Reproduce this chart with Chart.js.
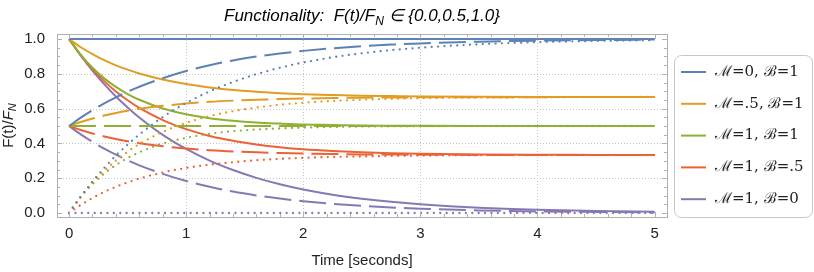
<!DOCTYPE html>
<html>
<head>
<meta charset="utf-8">
<script src="https://cdn.jsdelivr.net/npm/chart.js@4.4.0/dist/chart.umd.min.js"></script>
<style>
  html, body { margin: 0; padding: 0; background: #fff; }
  #wrap { width: 814px; height: 272px; position: relative; }
</style>
</head>
<body>
<div id="wrap"><canvas id="chart" width="814" height="272"></canvas></div>
<script>
// time samples (seconds)
const times = [0, 0.1, 0.2, 0.3, 0.4, 0.5, 0.6, 0.8, 1, 1.2, 1.4, 1.6, 1.8, 2, 2.25, 2.5, 2.75, 3, 3.5, 4, 4.5, 5];

// M=0, B=1
const m0b1From1  = [1, 1, 1, 1, 1, 1, 1, 1, 1, 1, 1, 1, 1, 1, 1, 1, 1, 1, 1, 1, 1, 1];
const m0b1From05 = [0.5, 0.548, 0.591, 0.630, 0.665, 0.697, 0.726, 0.775, 0.816, 0.849, 0.877, 0.899, 0.917, 0.932, 0.947, 0.959, 0.968, 0.975, 0.985, 0.991, 0.994, 0.997];
const m0b1From0  = [0, 0.095, 0.181, 0.259, 0.330, 0.393, 0.451, 0.551, 0.632, 0.699, 0.753, 0.798, 0.835, 0.865, 0.895, 0.918, 0.936, 0.950, 0.970, 0.982, 0.989, 0.993];

// M=.5, B=1
const m05b1From1  = [1, 0.953, 0.914, 0.879, 0.849, 0.824, 0.802, 0.767, 0.741, 0.722, 0.707, 0.697, 0.689, 0.683, 0.678, 0.674, 0.672, 0.670, 0.668, 0.667, 0.667, 0.667];
const m05b1From05 = [0.5, 0.523, 0.543, 0.560, 0.575, 0.588, 0.599, 0.616, 0.629, 0.639, 0.646, 0.651, 0.655, 0.658, 0.661, 0.663, 0.664, 0.665, 0.666, 0.666, 0.667, 0.667];
const m05b1From0  = [0, 0.093, 0.173, 0.242, 0.301, 0.352, 0.396, 0.466, 0.518, 0.557, 0.585, 0.606, 0.622, 0.634, 0.644, 0.651, 0.656, 0.660, 0.663, 0.665, 0.666, 0.667];

// M=1, B=1
const m1b1From1  = [1, 0.909, 0.835, 0.774, 0.725, 0.684, 0.651, 0.601, 0.568, 0.545, 0.530, 0.520, 0.514, 0.509, 0.506, 0.503, 0.502, 0.501, 0.500, 0.500, 0.500, 0.500];
const m1b1From05 = [0.5, 0.5, 0.5, 0.5, 0.5, 0.5, 0.5, 0.5, 0.5, 0.5, 0.5, 0.5, 0.5, 0.5, 0.5, 0.5, 0.5, 0.5, 0.5, 0.5, 0.5, 0.5];
const m1b1From0  = [0, 0.091, 0.165, 0.226, 0.275, 0.316, 0.349, 0.399, 0.432, 0.455, 0.470, 0.480, 0.486, 0.491, 0.494, 0.497, 0.498, 0.499, 0.500, 0.500, 0.500, 0.500];

// M=1, B=.5
const m1b05From1  = [1, 0.907, 0.827, 0.758, 0.699, 0.648, 0.604, 0.534, 0.482, 0.443, 0.415, 0.394, 0.378, 0.366, 0.356, 0.349, 0.344, 0.341, 0.337, 0.335, 0.334, 0.333];
const m1b05From05 = [0.5, 0.477, 0.457, 0.440, 0.425, 0.412, 0.401, 0.384, 0.371, 0.361, 0.354, 0.349, 0.345, 0.342, 0.339, 0.337, 0.336, 0.335, 0.334, 0.333, 0.333, 0.333];
const m1b05From0  = [0, 0.046, 0.086, 0.121, 0.150, 0.176, 0.198, 0.233, 0.259, 0.278, 0.292, 0.303, 0.311, 0.317, 0.322, 0.325, 0.328, 0.330, 0.332, 0.333, 0.333, 0.333];

// M=1, B=0
const m1b0From1  = [1, 0.905, 0.819, 0.741, 0.670, 0.607, 0.549, 0.449, 0.368, 0.301, 0.247, 0.202, 0.165, 0.135, 0.105, 0.082, 0.064, 0.050, 0.030, 0.018, 0.011, 0.007];
const m1b0From05 = [0.5, 0.452, 0.409, 0.370, 0.335, 0.303, 0.274, 0.225, 0.184, 0.151, 0.123, 0.101, 0.083, 0.068, 0.053, 0.041, 0.032, 0.025, 0.015, 0.009, 0.006, 0.003];
const m1b0From0  = [0, 0, 0, 0, 0, 0, 0, 0, 0, 0, 0, 0, 0, 0, 0, 0, 0, 0, 0, 0, 0, 0];

const seriesLabels = ['ℳ=0, ℬ=1', 'ℳ=.5, ℬ=1', 'ℳ=1, ℬ=1', 'ℳ=1, ℬ=.5', 'ℳ=1, ℬ=0'];
const seriesColors = ['#5e81b5', '#e19c24', '#8fb032', '#eb6235', '#8778b3'];
const seriesValues = [
    [m0b1From1, m0b1From05, m0b1From0],
    [m05b1From1, m05b1From05, m05b1From0],
    [m1b1From1, m1b1From05, m1b1From0],
    [m1b05From1, m1b05From05, m1b05From0],
    [m1b0From1, m1b0From05, m1b0From0]
];

const xTickLabels = [0, 1, 2, 3, 4, 5];
const yTickLabels = [0.0, 0.2, 0.4, 0.6, 0.8, 1.0];

// line styles for the three starting values
const styles = [
    { dash: [], cap: 'butt' },
    { dash: [27, 8], cap: 'butt' },
    { dash: [0, 6.4], cap: 'round' }
];

const datasets = [];
seriesValues.forEach((group, si) => {
    group.forEach((vals, k) => {
        datasets.push({
            label: seriesLabels[si],
            data: times.map((t, i) => ({ x: t, y: vals[i] })),
            borderColor: seriesColors[si],
            borderWidth: k === 2 ? 2.3 : 2,
            borderDash: styles[k].dash,
            borderCapStyle: styles[k].cap,
            pointRadius: 0,
            fill: false,
            cubicInterpolationMode: 'monotone'
        });
    });
});

const FRAME = '#b0b0b0';

function drawParts(ctx, parts, x, y, align) {
    let total = 0;
    parts.forEach(p => { ctx.font = p.font; total += ctx.measureText(p.text).width; });
    let cx = align === 'center' ? x - total / 2 : x;
    parts.forEach(p => {
        ctx.font = p.font;
        ctx.fillText(p.text, cx, y + (p.dy || 0));
        cx += ctx.measureText(p.text).width;
    });
}

const decorPlugin = {
    id: 'decor',
    beforeDatasetsDraw(chart) {
        const { ctx, chartArea: a, scales: { x, y } } = chart;
        ctx.save();
        ctx.strokeStyle = '#c4c4c4';
        ctx.lineWidth = 1;
        ctx.setLineDash([1, 2]);
        [1, 2, 3, 4].forEach(v => {
            const px = Math.round(x.getPixelForValue(v)) + 0.5;
            ctx.beginPath(); ctx.moveTo(px, a.top); ctx.lineTo(px, a.bottom); ctx.stroke();
        });
        [0.2, 0.4, 0.6, 0.8].forEach(v => {
            const py = Math.round(y.getPixelForValue(v)) + 0.5;
            ctx.beginPath(); ctx.moveTo(a.left, py); ctx.lineTo(a.right, py); ctx.stroke();
        });
        ctx.restore();
    },
    afterDatasetsDraw(chart) {
        const { ctx, chartArea: a, scales: { x, y } } = chart;
        ctx.save();
        // frame
        ctx.strokeStyle = FRAME;
        ctx.lineWidth = 1;
        ctx.strokeRect(Math.round(a.left) + 0.5, Math.round(a.top) + 0.5,
            Math.round(a.right - a.left), Math.round(a.bottom - a.top));
        // ticks
        ctx.beginPath();
        for (let i = 0; i <= 25; i++) {
            const v = i * 0.2;
            const len = i % 5 === 0 ? 5 : 3;
            const px = Math.round(x.getPixelForValue(v)) + 0.5;
            ctx.moveTo(px, a.bottom); ctx.lineTo(px, a.bottom - len);
            ctx.moveTo(px, a.top); ctx.lineTo(px, a.top + len);
        }
        for (let i = 0; i <= 20; i++) {
            const v = i * 0.05;
            const len = i % 4 === 0 ? 5 : 3;
            const py = Math.round(y.getPixelForValue(v)) + 0.5;
            ctx.moveTo(a.left, py); ctx.lineTo(a.left + len, py);
            ctx.moveTo(a.right, py); ctx.lineTo(a.right - len, py);
        }
        ctx.stroke();

        // title
        ctx.fillStyle = '#000';
        ctx.textBaseline = 'alphabetic';
        const tf = 'italic 17px "Liberation Sans"';
        const tfs = 'italic 12px "Liberation Sans"';
        drawParts(ctx, [
            { text: 'Functionality:  F(t)/F', font: tf },
            { text: 'N', font: tfs, dy: 4 },
            { text: ' \u2208 {0.0,0.5,1.0}', font: tf }
        ], (a.left + a.right) / 2, 21, 'center');

        // x axis title
        ctx.fillStyle = '#222';
        drawParts(ctx, [{ text: 'Time [seconds]', font: '15px "Liberation Sans"' }],
            (a.left + a.right) / 2, 265, 'center');

        // y axis title
        ctx.save();
        ctx.translate(13, (a.top + a.bottom) / 2);
        ctx.rotate(-Math.PI / 2);
        drawParts(ctx, [
            { text: 'F(t)/', font: '15px "Liberation Sans"' },
            { text: 'F', font: 'italic 15px "Liberation Sans"' },
            { text: 'N', font: 'italic 11px "Liberation Sans"', dy: 3 }
        ], 0, 0, 'center');
        ctx.restore();

        // legend
        const lx = 674, ly = 55, lw = 138, lh = 162, r = 7;
        ctx.strokeStyle = '#c8c8c8';
        ctx.setLineDash([]);
        ctx.beginPath();
        ctx.roundRect(lx + 0.5, ly + 0.5, lw, lh, r);
        ctx.stroke();
        ctx.textBaseline = 'middle';
        seriesLabels.forEach((lab, i) => {
            const yy = 72 + i * 31.8;
            ctx.strokeStyle = seriesColors[i];
            ctx.lineWidth = 2;
            ctx.beginPath(); ctx.moveTo(681, yy); ctx.lineTo(706, yy); ctx.stroke();
            ctx.fillStyle = '#222';
            ctx.font = '15px "DejaVu Serif"';
            ctx.fillText(lab, 715, yy);
        });
        ctx.restore();
    }
};

new Chart(document.getElementById('chart'), {
    type: 'line',
    data: { datasets },
    plugins: [decorPlugin],
    options: {
        responsive: false,
        animation: false,
        layout: { padding: { top: 34, right: 147, left: 0, bottom: 0 } },
        plugins: { legend: { display: false }, tooltip: { enabled: false } },
        scales: {
            x: {
                type: 'linear',
                min: -0.103,
                max: 5.106,
                grid: { display: false },
                border: { display: false },
                afterFit: s => { s.height = 55; },
                afterBuildTicks: s => { s.ticks = xTickLabels.map(v => ({ value: v })); },
                ticks: {
                    padding: 0,
                    color: '#222',
                    font: { family: 'Liberation Sans', size: 15 },
                    callback: v => String(v)
                }
            },
            y: {
                min: -0.023,
                max: 1.029,
                grid: { display: false },
                border: { display: false },
                afterFit: s => { s.width = 57; },
                afterBuildTicks: s => { s.ticks = yTickLabels.map(v => ({ value: v })); },
                ticks: {
                    padding: 4,
                    color: '#222',
                    font: { family: 'Liberation Sans', size: 15 },
                    callback: v => v.toFixed(1)
                }
            }
        }
    }
});
</script>
</body>
</html>
